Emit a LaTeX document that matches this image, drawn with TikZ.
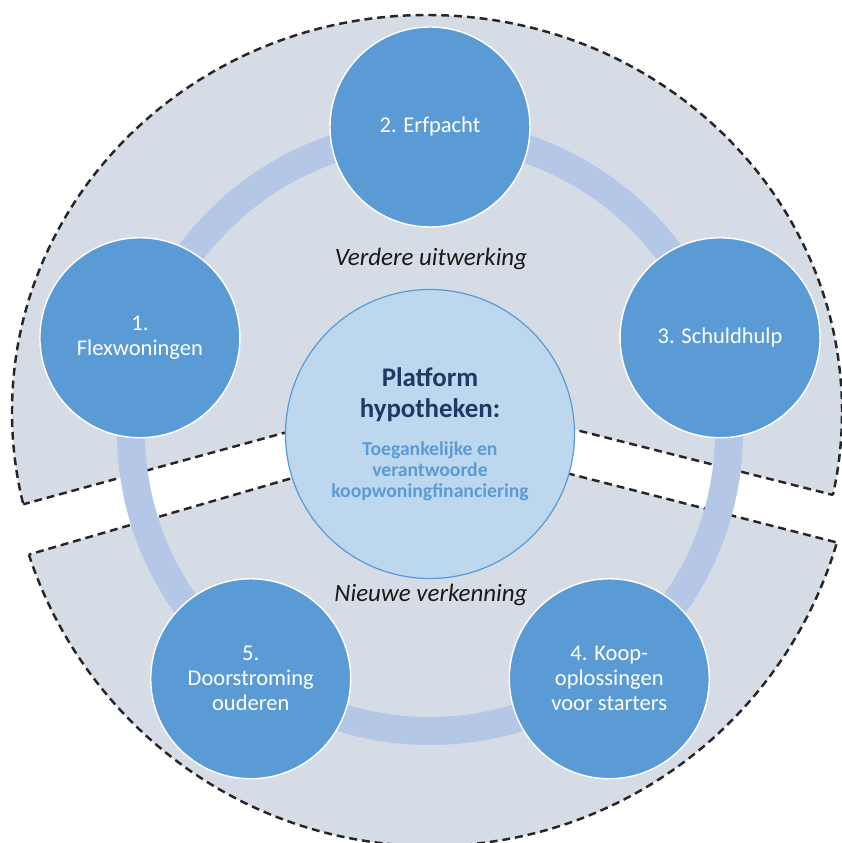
\documentclass[tikz,border=0pt]{standalone}
\usepackage{fontspec}
\setmainfont{Carlito}
\definecolor{platgray}{HTML}{D6DCE5}
\definecolor{platblue}{HTML}{5B9BD5}
\definecolor{platlight}{HTML}{BDD7EE}
\definecolor{platring}{HTML}{B4C7E7}
\definecolor{platnavy}{HTML}{1F3864}
\begin{document}
\begin{tikzpicture}[
    part/.style={fill=platgray, draw=black!85, line width=1.4pt, dash pattern=on 4.5pt off 2.8pt},
    cut/.style={draw=black!85, line width=1.4pt, dash pattern=on 4.5pt off 2.8pt},
    ring/.style={draw=platring, line width=0.56cm},
    item/.style={circle, fill=platblue, draw=white, line width=0.8pt, minimum size=4cm, inner sep=0pt,
      text=white, align=center, font=\fontsize{12.8}{14.2}\selectfont},
    hub/.style={circle, fill=platlight, draw=platblue, line width=0.7pt, minimum size=5.78cm, inner sep=0pt,
      align=center, text=platblue, font=\fontsize{11.2}{12}\selectfont\bfseries},
    phase/.style={font=\fontsize{14.2}{16}\selectfont\itshape, text=black!90}]
  \useasboundingbox (-8.6,-8.22) rectangle (8.22,8.64);
  \begin{scope}
    \clip (0,0.78) -- (-9.646,-1.859) -- (-9.646,10) -- (9.694,10) -- (9.694,-1.673) -- cycle;
    \draw[part] (-0.06,0.4) ellipse (8.3 and 7.94);
  \end{scope}
  \begin{scope}
    \clip (-0.06,0.4) ellipse (8.3 and 7.94);
    \draw[cut] (-9.646,-1.859) -- (0,0.78) -- (9.694,-1.673);
  \end{scope}
  \begin{scope}
    \clip (0,-0.12) -- (-9.603,-2.91) -- (-9.603,-10) -- (9.686,-10) -- (9.686,-2.607) -- cycle;
    \draw[part] (0.02,0.18) circle (8.46);
  \end{scope}
  \begin{scope}
    \clip (0.02,0.18) circle (8.46);
    \draw[cut] (-9.603,-2.91) -- (0,-0.12) -- (9.686,-2.607);
  \end{scope}
  \draw[ring] (0,0) circle (5.98);
  \draw
    (162:6.1) node[item] (1){1.\\Flexwoningen}
    (90:6.1) node[item] (2){2. Erfpacht}
    (18:6.1) node[item] (3){3. Schuldhulp}
    (306:6.1) node[item] (4){4. Koop-\\oplossingen\\voor starters}
    (234:6.1) node[item] (5){5.\\Doorstroming\\ouderen}
    (0,-0.04) node[hub] (0){{\fontsize{15.3}{17.7}\selectfont\color{platnavy}Platform}\\[5.7pt]
      {\fontsize{15.3}{17.7}\selectfont\color{platnavy}hypotheken:}\\[9.7pt]
      Toegankelijke en\\verantwoorde\\koopwoningfinanciering}
    (0.02,3.46) node[phase] (verder){Verdere uitwerking}
    (0.02,-3.26) node[phase] (nieuw){Nieuwe verkenning};
\end{tikzpicture}
\end{document}
